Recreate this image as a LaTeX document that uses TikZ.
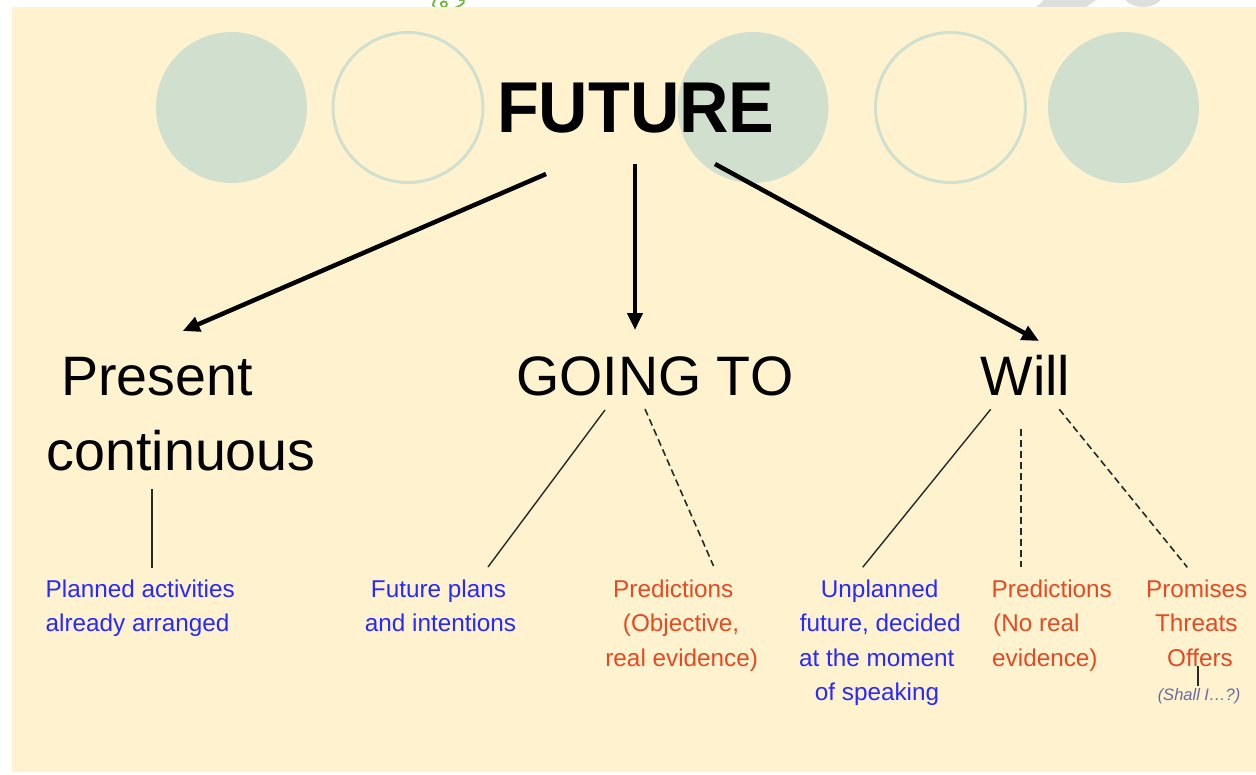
\documentclass[tikz,border=0pt]{standalone}
\usepackage{fontspec}
\setmainfont{Liberation Sans}
\usepackage{graphicx}
\usetikzlibrary{arrows.meta}
\definecolor{beige}{RGB}{254,243,206}
\definecolor{sage}{RGB}{209,223,207}
\definecolor{bluetxt}{RGB}{40,40,255}
\definecolor{redtxt}{RGB}{228,74,36}
\definecolor{shalltxt}{RGB}{105,105,165}
\definecolor{linegray}{RGB}{40,40,40}
\definecolor{wmgray}{RGB}{222,222,222}
\definecolor{curlgreen}{RGB}{112,182,62}
\begin{document}
\begin{tikzpicture}[x=1pt,y=-1pt,
  bigarrow/.style={line width=4.5pt,-{Triangle[length=17pt,width=15pt]}},
  thinline/.style={line width=1.4pt,draw=linegray},
  dashline/.style={thinline,line width=1.6pt,dash pattern=on 7pt off 4pt},
  mainlabel/.style={inner sep=0pt,font=\fontsize{55.6}{60}\selectfont},
  sublabel/.style={inner sep=0pt,font=\fontsize{24.3}{30}\selectfont},
  bluelabel/.style={sublabel,text=bluetxt},
  redlabel/.style={sublabel,text=redtxt},
  filledcircle/.style={fill=sage,draw=none},
  ringcircle/.style={draw=sage,line width=3pt,fill=none}]
% page
\useasboundingbox (0,0) rectangle (1256,774);
\fill[white] (0,0) rectangle (1256,774);
% artifacts above the slide
\fill[wmgray] (1044,0) -- (1096,0) -- (1086,7) -- (1036,7) -- cycle;
\fill[wmgray] (1143,-10) ellipse [x radius=22, y radius=17];
\draw[curlgreen,line width=1.8pt] (435,0) .. controls (429,8) and (438,12) .. (445,7)
   .. controls (450,3) and (444,-1) .. (441,3) .. controls (440,9) and (452,11) .. (461,5)
   .. controls (467,1) and (463,-1) .. (459,0);
% slide
\fill[beige] (12,7) rectangle (1256,772);
% decorative circles
\fill[filledcircle] (231.5,107.5) circle [radius=75.5];
\draw[ringcircle] (408,107.5) circle [radius=75];
\fill[filledcircle] (753,107.5) circle [radius=75.5];
\draw[ringcircle] (950.5,107.5) circle [radius=75];
\fill[filledcircle] (1123.5,107.5) circle [radius=75.5];
% title
\node[anchor=base west,inner sep=0pt] (future) at (497,132)
  {\scalebox{0.95}[1]{\fontsize{72}{72}\selectfont\bfseries FUTURE}};
% main labels
\node[mainlabel,anchor=base west] (present) at (61,395) {Present};
\node[mainlabel,anchor=base west] (contin) at (46.5,470) {continuous};
\node[mainlabel,anchor=base west] (goingto) at (516,395) {GOING TO};
\node[mainlabel,anchor=base west] (will) at (980.5,395) {Will};
% arrow endpoints
\coordinate (fA) at (546,174); \coordinate (tA) at (182.7,331);
\coordinate (fB) at (635,164); \coordinate (tB) at (635,330);
\coordinate (fC) at (715,164); \coordinate (tC) at (1039,341);
\draw[bigarrow] (fA) -- (tA);
\draw[bigarrow] (fB) -- (tB);
\draw[bigarrow] (fC) -- (tC);
% sub labels
\node[bluelabel,anchor=base west] (a1) at (45.5,597) {Planned activities};
\node[bluelabel,anchor=base west] (a2) at (45.5,631.5) {already arranged};
\node[bluelabel,anchor=base] (b1) at (438.5,597) {Future plans};
\node[bluelabel,anchor=base] (b2) at (440.5,631.5) {and intentions};
\node[redlabel,anchor=base] (c1) at (673.3,597) {Predictions};
\node[redlabel,anchor=base] (c2) at (681,631.5) {(Objective,};
\node[redlabel,anchor=base] (c3) at (681.7,666) {real evidence)};
\node[bluelabel,anchor=base] (d1) at (879.7,597) {Unplanned};
\node[bluelabel,anchor=base] (d2) at (880.3,631.5) {future, decided};
\node[bluelabel,anchor=base] (d3) at (876.7,666) {at the moment};
\node[bluelabel,anchor=base] (d4) at (877,700.5) {of speaking};
\node[redlabel,anchor=base west] (e1) at (991.5,597) {Predictions};
\node[redlabel,anchor=base west] (e2) at (993,631.5) {(No real};
\node[redlabel,anchor=base west] (e3) at (992,666) {evidence)};
\node[redlabel,anchor=base] (f1) at (1196.7,597) {Promises};
\node[redlabel,anchor=base] (f2) at (1196.3,631.5) {Threats};
\node[redlabel,anchor=base] (f3) at (1200,666) {Offers};
\node[inner sep=0pt,anchor=base,text=shalltxt,font=\fontsize{16.5}{18}\selectfont\itshape] (shall) at (1199,700) {(Shall I…?)};
% connector end points
\coordinate (pc0) at (152,489); \coordinate (pc1) at (152,568);
\coordinate (g0) at (605,410); \coordinate (g1) at (488,567);
\coordinate (g2) at (645,409); \coordinate (g3) at (713.5,566);
\coordinate (w0) at (990.7,409.3); \coordinate (w1) at (862.7,567.3);
\coordinate (w2) at (1020.7,429); \coordinate (w3) at (1020.7,567);
\coordinate (w4) at (1059.3,409.3); \coordinate (w5) at (1187.3,567.3);
\coordinate (o0) at (1197.7,666); \coordinate (o1) at (1197.7,686);
\draw[thinline] (pc0) -- (pc1);
\draw[thinline] (g0) -- (g1);
\draw[dashline] (g2) -- (g3);
\draw[thinline] (w0) -- (w1);
\draw[dashline] (w2) -- (w3);
\draw[dashline] (w4) -- (w5);
\draw[thinline,line width=1.8pt] (o0) -- (o1);
\end{tikzpicture}
\end{document}
